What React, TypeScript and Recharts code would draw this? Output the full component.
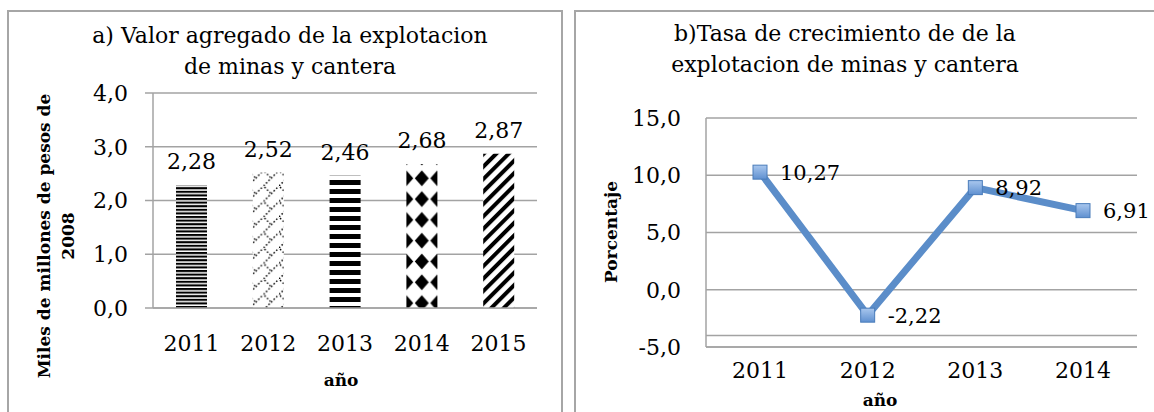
import React from 'react';
import {
  BarChart, Bar, Cell, XAxis, YAxis, CartesianGrid, LabelList, Label,
  LineChart, Line, ReferenceLine,
} from 'recharts';

// ---- data ----
const barYears = ['2011', '2012', '2013', '2014', '2015'];
const valorAgregado = [2.28, 2.52, 2.46, 2.68, 2.87];
const leftYTicks = [0, 1, 2, 3, 4];

const lineYears = ['2011', '2012', '2013', '2014'];
const tasaCrecimiento = [10.27, -2.22, 8.92, 6.91];
const rightYTicks = [-5, 0, 5, 10, 15];
const extraGridValue = -4;

const leftTitleLines = ['a) Valor agregado de la explotacion', 'de minas y cantera'];
const rightTitleLines = ['b)Tasa de crecimiento de de la', 'explotacion de minas y cantera'];
const leftYTitleLines = ['Miles de millones de pesos de', '2008'];
const rightYTitle = 'Porcentaje';
const xTitle = 'año';

// style lists (not data)
const barPatternIds = ['pHThin', 'pLattice', 'pHWide', 'pDiamond', 'pDiag'];

const barData = barYears.map((y, i) => ({ year: y, value: valorAgregado[i] }));
const lineData = lineYears.map((y, i) => ({ year: y, value: tasaCrecimiento[i] }));

const SERIF = '"DejaVu Serif", serif';
const GRID = '#a3a3a3';
const FS = 22;
const BFS = 17;
const fmt1 = (v: number) => v.toFixed(1).replace('.', ',');
const fmt2 = (v: number) => v.toFixed(2).replace('.', ',');

const BarValueLabel = (props: any) => {
  const { x, y, width, value } = props;
  return (
    <text x={x + width / 2} y={y - 16} textAnchor="middle" fontFamily={SERIF} fontSize={FS} fill="#000">
      {fmt2(value)}
    </text>
  );
};

const LineValueLabel = (props: any) => {
  const { x, y, value } = props;
  return (
    <text x={x + 20} y={y} dy="0.36em" textAnchor="start" fontFamily={SERIF} fontSize={21} fill="#000">
      {fmt2(value)}
    </text>
  );
};

const SquareDot = (props: any) => {
  const { cx, cy, index } = props;
  if (cx == null || cy == null) return null;
  return (
    <rect key={`d${index}`} x={cx - 7} y={cy - 7} width={14} height={14}
      fill="url(#markerGrad)" stroke="#4a7cba" strokeWidth={1} />
  );
};

const LeftYTitle = () => (
  <text transform="rotate(-90)" textAnchor="middle" fontFamily={SERIF} fontWeight="bold" fontSize={BFS} fill="#000">
    <tspan x={-236} y={50}>{leftYTitleLines[0]}</tspan>
    <tspan x={-236} y={74}>{leftYTitleLines[1]}</tspan>
  </text>
);

const RightYTitle = () => (
  <text transform="rotate(-90)" textAnchor="middle" fontFamily={SERIF} fontWeight="bold" fontSize={BFS} fill="#000">
    <tspan x={-232} y={42}>{rightYTitle}</tspan>
  </text>
);

const LeftXTitle = () => (
  <text x={341} y={386} textAnchor="middle" fontFamily={SERIF} fontWeight="bold" fontSize={BFS} fill="#000">{xTitle}</text>
);

const RightXTitle = () => (
  <text x={305} y={406} textAnchor="middle" fontFamily={SERIF} fontWeight="bold" fontSize={BFS} fill="#000">{xTitle}</text>
);

const titleStyle: React.CSSProperties = {
  position: 'absolute', fontFamily: SERIF, fontSize: FS, lineHeight: '31px', textAlign: 'center', color: '#000', whiteSpace: 'nowrap',
};

export default function App() {
  return (
    <div style={{ position: 'absolute', left: 0, top: 0, width: 1154, height: 412, overflow: 'hidden', background: '#fff' }}>
      <svg width={0} height={0} style={{ position: 'absolute' }}>
        <defs>
          <pattern id="pHThin" patternUnits="userSpaceOnUse" x={0} y={0} width={8} height={3.6}>
            <rect width={8} height={3.6} fill="#fff" />
            <rect width={8} height={2.1} fill="#000" />
          </pattern>
          <pattern id="pHWide" patternUnits="userSpaceOnUse" x={0} y={0} width={8} height={9}>
            <rect width={8} height={9} fill="#fff" />
            <rect width={8} height={5} fill="#000" />
          </pattern>
          <pattern id="pDiag" patternUnits="userSpaceOnUse" width={8.8} height={8.8} patternTransform="rotate(45)">
            <rect width={8.8} height={8.8} fill="#fff" />
            <rect width={4} height={8.8} fill="#000" />
          </pattern>
          <pattern id="pDiamond" patternUnits="userSpaceOnUse" x={11.05} y={1.5} width={15.5} height={20.8}>
            <rect width={15.5} height={20.8} fill="#fff" />
            <polygon points="7.75,2.4 14.75,10.4 7.75,18.4 0.75,10.4" fill="#000" />
          </pattern>
          <pattern id="pLattice" patternUnits="userSpaceOnUse" x={0} y={0} width={15.5} height={15.5}>
            <rect width={15.5} height={15.5} fill="#fff" />
            <path d="M0,15.5 L15.5,0" stroke="#000" strokeWidth={1.4} strokeDasharray="1.6 2" fill="none" />
            <path d="M1,1 L7,7" stroke="#000" strokeWidth={1.4} strokeDasharray="1.6 2" fill="none" />
          </pattern>
          <linearGradient id="markerGrad" x1="0" y1="0" x2="0" y2="1">
            <stop offset="0%" stopColor="#a9c7ee" />
            <stop offset="100%" stopColor="#5f90d0" />
          </linearGradient>
        </defs>
      </svg>

      {/* panel frames */}
      <div style={{ position: 'absolute', left: 7, top: 10, width: 556, height: 500, border: '2px solid #a6a6a6', boxSizing: 'border-box' }} />
      <div style={{ position: 'absolute', left: 574, top: 10, width: 700, height: 500, border: '2px solid #a6a6a6', boxSizing: 'border-box' }} />

      {/* titles */}
      <div style={{ ...titleStyle, left: 40, top: 20, width: 500 }}>
        {leftTitleLines[0]}<br />{leftTitleLines[1]}
      </div>
      <div style={{ ...titleStyle, left: 595, top: 18, width: 500 }}>
        {rightTitleLines[0]}<br />{rightTitleLines[1]}
      </div>

      {/* left bar chart */}
      <div style={{ position: 'absolute', left: 0, top: 0 }}>
        <BarChart width={561} height={412} data={barData} margin={{ top: 93, right: 24, bottom: 44, left: 0 }}>
          <CartesianGrid horizontal vertical={false} stroke={GRID} strokeWidth={1.5} />
          <XAxis dataKey="year" height={60} tickLine={false} tickSize={0} tickMargin={27}
            axisLine={{ stroke: GRID, strokeWidth: 1.5 }}
            tick={{ fontFamily: SERIF, fontSize: FS, fill: '#000' }}>
            <Label content={<LeftXTitle />} />
          </XAxis>
          <YAxis width={153} domain={[0, 4]} ticks={leftYTicks} tickFormatter={fmt1} interval={0}
            tickSize={8} tickMargin={17} tickLine={{ stroke: GRID, strokeWidth: 1.5 }}
            axisLine={{ stroke: GRID, strokeWidth: 1.5 }}
            tick={{ fontFamily: SERIF, fontSize: FS, fill: '#000' }}>
            <Label content={<LeftYTitle />} />
          </YAxis>
          <Bar dataKey="value" barSize={31} isAnimationActive={false}>
            {barData.map((d, i) => (
              <Cell key={d.year} fill={`url(#${barPatternIds[i]})`} />
            ))}
            <LabelList dataKey="value" content={<BarValueLabel />} />
          </Bar>
        </BarChart>
      </div>

      {/* right line chart */}
      <div style={{ position: 'absolute', left: 575, top: 0 }}>
        <LineChart width={579} height={412} data={lineData} margin={{ top: 118, right: 17, bottom: 5, left: 0 }}>
          <CartesianGrid horizontal vertical={false} stroke={GRID} strokeWidth={1.5} />
          <ReferenceLine y={extraGridValue} stroke={GRID} strokeWidth={1.5} />
          <XAxis dataKey="year" height={60} padding={{ left: 54, right: 54 }} tickLine={false} tickSize={0} tickMargin={15}
            axisLine={{ stroke: GRID, strokeWidth: 1.5 }}
            tick={{ fontFamily: SERIF, fontSize: FS, fill: '#000' }}>
            <Label content={<RightXTitle />} />
          </XAxis>
          <YAxis width={131} domain={[-5, 15]} ticks={rightYTicks} tickFormatter={fmt1} interval={0}
            tickLine={false} tickSize={0} tickMargin={25}
            axisLine={{ stroke: GRID, strokeWidth: 1.5 }}
            tick={{ fontFamily: SERIF, fontSize: FS, fill: '#000' }}>
            <Label content={<RightYTitle />} />
          </YAxis>
          <Line type="linear" dataKey="value" stroke="#5b8dc9" strokeWidth={7} strokeLinejoin="round"
            dot={<SquareDot />} activeDot={false} isAnimationActive={false}>
            <LabelList dataKey="value" content={<LineValueLabel />} />
          </Line>
        </LineChart>
      </div>
    </div>
  );
}
